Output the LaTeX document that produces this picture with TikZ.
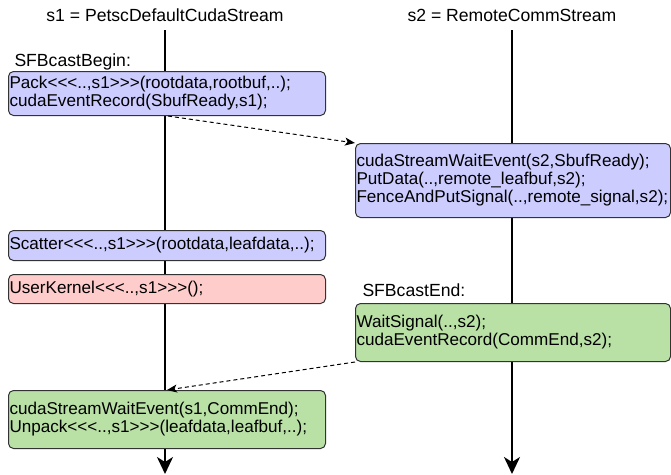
\documentclass[tikz,border=0pt]{standalone}
\usepackage{fontspec}
\setmainfont{Liberation Sans}
\usetikzlibrary{arrows.meta}
\definecolor{packblue}{RGB}{204,204,255}
\definecolor{kernred}{RGB}{255,204,204}
\definecolor{commgreen}{RGB}{185,224,165}

\begin{document}
\begin{tikzpicture}[x=1pt,y=-1pt,line width=1pt,
    op/.style={draw=black!80,rounded corners=5pt,anchor=north west,align=left,inner xsep=1pt,inner ysep=0pt,font=\fontsize{17.1}{18}\selectfont},
    lop/.style={op,text width=315pt},
    rop/.style={op,text width=313pt},
    lbl/.style={inner sep=0pt,font=\fontsize{17.6}{18}\selectfont},
    life/.style={line width=2pt,-{Stealth[length=17pt,width=16pt,inset=5pt]}},
    sync/.style={dash pattern=on 4pt off 3pt,-{Stealth[length=10pt,width=8pt,inset=2.5pt]}}]
    \useasboundingbox (0,0) rectangle (671,474);

    \node[lbl] (s1) at (165,15) {s1 = PetscDefaultCudaStream};
    \node[lbl] (s2) at (512,15) {s2 = RemoteCommStream};
    \coordinate (l1top) at (165,30);
    \coordinate (l1bot) at (165,474);
    \coordinate (l2top) at (512,30);
    \coordinate (l2bot) at (512,474);
    \draw[life] (l1top) -- (l1bot);
    \draw[life] (l2top) -- (l2bot);

    \node[lbl,anchor=west] (begin) at (14,62) {SFBcastBegin:};
    \node[lop,fill=packblue,minimum height=44pt] (pack) at (8,71)
        {Pack<{}<{}<..,s1>{}>{}>(rootdata,rootbuf,..);\\cudaEventRecord(SbufReady,s1);};
    \node[rop,fill=packblue,minimum height=74pt] (put) at (355,143)
        {cudaStreamWaitEvent(s2,SbufReady);\\PutData(..,remote\_leafbuf,s2);\\FenceAndPutSignal(..,remote\_signal,s2);};
    \node[lop,fill=packblue,minimum height=30pt] (scatter) at (8,230)
        {Scatter<{}<{}<..,s1>{}>{}>(rootdata,leafdata,..);};
    \node[lop,fill=kernred,minimum height=29pt] (kern) at (8,274)
        {UserKernel<{}<{}<..,s1>{}>{}>();};
    \node[lbl,anchor=west] (end) at (362,290) {SFBcastEnd:};
    \node[rop,fill=commgreen,minimum height=58pt] (wait) at (355,303)
        {WaitSignal(..,s2);\\cudaEventRecord(CommEnd,s2);};
    \node[lop,fill=commgreen,minimum height=58pt] (unpack) at (8,390)
        {cudaStreamWaitEvent(s1,CommEnd);\\Unpack<{}<{}<..,s1>{}>{}>(leafdata,leafbuf,..);};

    \draw[sync] ([xshift=3pt]l1top |- pack.south) -- (put.north west);
    \draw[sync] (wait.south west) -- ([xshift=2pt]l1top |- unpack.north);
\end{tikzpicture}
\end{document}
